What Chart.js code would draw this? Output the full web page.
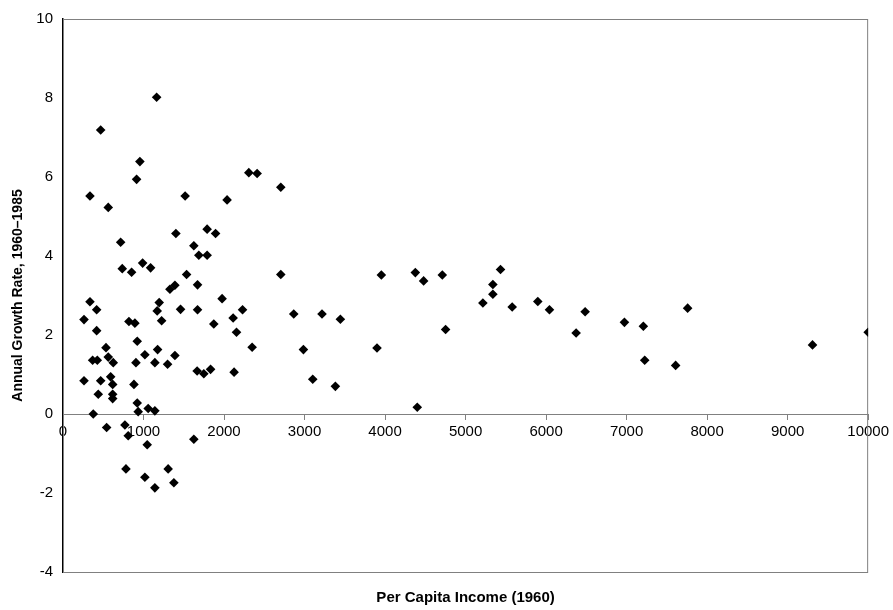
<!DOCTYPE html>
<html>
<head>
<meta charset="utf-8">
<script src="https://cdn.jsdelivr.net/npm/chart.js@4"></script>
<style>
  body { margin: 0; background: #fff; }
</style>
</head>
<body>
<canvas id="growthChart" width="893" height="610"></canvas>
<script>
// Per capita income in 1960 (x) and annual growth rate 1960-1985 (y), one pair per country
const income = [
  1163, 468, 955, 914, 335, 1517, 562, 1402, 1790, 1895,
  716, 1625, 1687, 1790, 736, 852, 989, 1088, 1535, 1671,
  1328, 1390, 1976, 335, 418, 1195, 1170, 1460, 1671, 2230,
  261, 418, 819, 893, 1225, 1873, 2113, 2155, 2705, 2308,
  2411, 2038, 2705, 2866, 3217, 2349, 2986, 3102, 922, 534,
  1175, 1017, 1390, 368, 426, 562, 624, 906, 1141, 1299,
  1666, 1749, 1833, 2125, 261, 468, 592, 617, 881, 438,
  617, 617, 922, 934, 1058, 1141, 376, 542, 769, 810,
  1046, 1625, 782, 1306, 1017, 1377, 1141, 3954, 4376, 4479,
  4711, 5434, 5339, 5339, 5215, 5579, 3445, 4752, 3900, 3383,
  4400, 5897, 6042, 6485, 6373, 6973, 7208, 7758, 7225, 7609,
  9309, 10000
];
const growth = [
  8.02, 7.19, 6.39, 5.94, 5.52, 5.52, 5.23, 4.57, 4.68, 4.57,
  4.35, 4.26, 4.02, 4.02, 3.68, 3.59, 3.82, 3.70, 3.53, 3.27,
  3.16, 3.26, 2.92, 2.84, 2.64, 2.82, 2.61, 2.65, 2.64, 2.64,
  2.39, 2.11, 2.34, 2.30, 2.36, 2.28, 2.43, 2.07, 5.74, 6.11,
  6.09, 5.42, 3.53, 2.53, 2.53, 1.69, 1.63, 0.88, 1.84, 1.68,
  1.63, 1.50, 1.48, 1.36, 1.36, 1.44, 1.30, 1.30, 1.30, 1.26,
  1.09, 1.02, 1.13, 1.06, 0.84, 0.84, 0.94, 0.75, 0.75, 0.50,
  0.50, 0.39, 0.28, 0.06, 0.14, 0.08, 0.00, -0.34, -0.28, -0.55,
  -0.78, -0.64, -1.39, -1.39, -1.60, -1.74, -1.87, 3.52, 3.58, 3.37,
  3.52, 3.66, 3.28, 3.03, 2.81, 2.71, 2.40, 2.14, 1.67, 0.70,
  0.17, 2.85, 2.64, 2.59, 2.05, 2.32, 2.22, 2.68, 1.36, 1.23,
  1.75, 2.07
];

const xTitle = 'Per Capita Income (1960)';
const yTitle = 'Annual Growth Rate, 1960\u20131985';

let points = [];
for (let i = 0; i < income.length; i++) {
  points.push({ x: income[i], y: growth[i] });
}

const fontFamily = "Arial, 'Liberation Sans', sans-serif";

// gray frame around the plot area (the Excel-style box)
const frame = {
  id: 'frame',
  beforeDatasetsDraw(chart) {
    const a = chart.chartArea;
    const ctx = chart.ctx;
    ctx.save();
    ctx.strokeStyle = '#808080';
    ctx.lineWidth = 1;
    ctx.strokeRect(a.left + 0.5, a.top + 0.5, a.right - a.left - 1, a.bottom - a.top);
    ctx.restore();
  }
};

const chart = new Chart(
  document.getElementById('growthChart'),
  {
    type: 'scatter',
    data: {
      datasets: [{
        data: points,
        pointStyle: 'rectRot',
        pointRadius: 4.8,
        backgroundColor: '#000',
        borderColor: '#000',
        borderWidth: 0
      }]
    },
    options: {
      responsive: false,
      animation: false,
      layout: { padding: { top: 16, right: 20, left: 0, bottom: 0 } },
      plugins: {
        legend: { display: false },
        tooltip: { enabled: false }
      },
      scales: {
        x: {
          type: 'linear',
          position: { y: 0 },
          min: 0,
          max: 10000,
          ticks: {
            stepSize: 1000,
            color: '#000',
            padding: 4,
            maxRotation: 0,
            font: { family: fontFamily, size: 15 },
            callback: function(value) { return String(value); }
          },
          grid: { drawOnChartArea: false, color: '#808080', tickLength: 5 },
          border: { color: '#808080', width: 1 }
        },
        x2: {
          type: 'linear',
          position: 'bottom',
          min: 0,
          max: 10000,
          ticks: { display: false },
          grid: { display: false, drawTicks: false },
          border: { display: false },
          title: {
            display: true,
            text: xTitle,
            color: '#000',
            font: { family: fontFamily, size: 15, weight: 'bold' },
            padding: { top: 17, bottom: 3 }
          }
        },
        y: {
          min: -4,
          max: 10,
          ticks: {
            stepSize: 2,
            color: '#000',
            padding: 10,
            font: { family: fontFamily, size: 15 }
          },
          grid: { display: false, drawTicks: false },
          border: { color: '#000', width: 1.5 },
          title: {
            display: true,
            text: yTitle,
            color: '#000',
            font: { family: fontFamily, size: 14, weight: 'bold' },
            padding: { top: 10, bottom: 0 }
          },
          afterFit: function(scale) {
            scale.width = 63;
          }
        }
      }
    },
    plugins: [frame]
  }
);
</script>
</body>
</html>
